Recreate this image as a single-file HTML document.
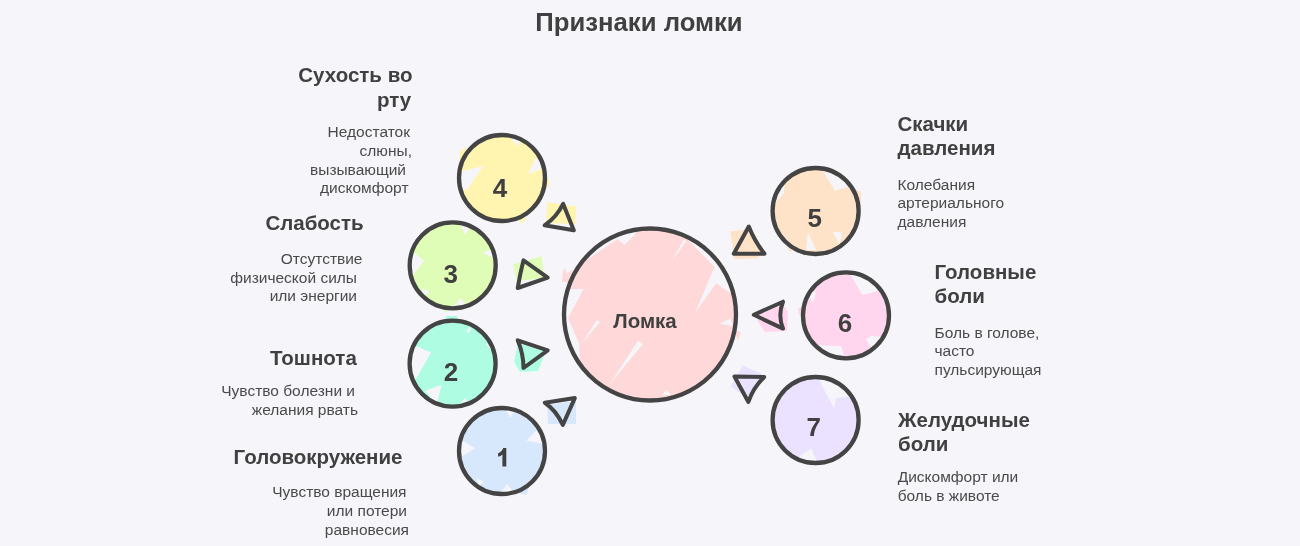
<!DOCTYPE html>
<html><head><meta charset="utf-8">
<style>
html,body{margin:0;padding:0;background:#f6f6fa;}
body{width:1300px;height:546px;overflow:hidden;}
svg{display:block;will-change:transform;}
text{font-family:"Liberation Sans",sans-serif;}
.t{font-weight:bold;font-size:25.7px;fill:#404040;}
.h{font-weight:bold;font-size:20.5px;fill:#404040;}
.d{font-size:15.5px;fill:#4a4a4a;}
.n{font-weight:bold;font-size:26px;fill:#404040;text-anchor:middle;}
.c{fill:none;stroke:#444;stroke-width:4.3;}
.tr{fill:none;stroke:#444;stroke-width:4;stroke-linejoin:round;stroke-linecap:round;}
</style></head>
<body>
<svg width="1300" height="546" viewBox="0 0 1300 546">
<rect width="1300" height="546" fill="#f6f6fa"/>
<text class="t" x="639" y="31" text-anchor="middle">Признаки ломки</text>

<!-- fills -->
<g id="fills">
<circle cx="650" cy="314.5" r="86" fill="#ffd9d9"/>
<path fill="#ffd9d9" d="M563,270 L572,266 L574,282 L562,282 Z M734,330 L741,332 L738,341 Z"/>
<g fill="#f6f6fa">
<path d="M566,262 L566,274 L617.6,238.9 L624.6,245 L635,234.6 L637,226 L600,230 Z"/>
<path d="M560,289 L583.7,289 L568,318 L579,343 L580,361 L560,345 Z"/>
<path d="M683.5,240 L686.5,241 L672,260.7 Z"/>
<path d="M684,236 L714.6,266.7 L695.4,312 L716.3,283.3 L730,293 L740,290 L724,256 L700,236 Z"/>
<path d="M597,320 L600,322 L581,344.6 Z"/>
<path d="M638,341 L643,344 L609,385 Z"/>
<path d="M719.8,323.7 L730.2,318.5 L733,326 Z"/>
<path d="M662,395 L666.7,389.8 L671,395 Z"/>
</g>
<circle cx="502" cy="178" r="43" fill="#fff4b0"/>
<path fill="#fff4b0" d="M460,151 L466,147 L466,168 L459,165 Z M518,219 L527,217 L522,224 Z M544,178 L550,180 L548,188 L543,186 Z"/>
<g fill="#f6f6fa">
<path d="M458,170 L463.7,170.9 L483.7,165.7 L467.2,189.2 L458,192 Z"/>
<path d="M509,136 L517.6,146.6 L521,139 Z"/>
<path d="M535.3,158 L528.2,174.3 L541,169 L545,160 Z"/>
</g>
<circle cx="452.7" cy="265.4" r="43" fill="#dffdb6"/>
<path fill="#dffdb6" d="M443,308 L450,307 L446,313 Z"/>
<g fill="#f6f6fa">
<path d="M408,250 L412,251 L424.1,260.6 L412.8,275.4 L408,276 Z"/>
<path d="M459,222 L465,234.5 L473,224 Z"/>
<path d="M498,247 L482.4,252.8 L499,261 Z"/>
<path d="M454,306 L460.7,298 L467,306 Z"/>
<path d="M422,288 L430,292 L424,296 Z"/>
</g>
<circle cx="452.6" cy="363.6" r="43" fill="#aefde2"/>
<path fill="#aefde2" d="M446,316 L457,316 L458,322 L445,322 Z"/>
<g fill="#f6f6fa">
<path d="M409,343 L431.1,352.5 L416.3,378.6 L409,380 Z"/>
<path d="M466,331 L472,325 L469,333 Z"/>
<path d="M486,344 L492,342 L493,352 Z"/>
<path d="M425,391 L441.5,384.7 L437,404 Z"/>
<path d="M460,404 L465,397.8 L469,404 Z"/>
</g>
<circle cx="502" cy="451" r="43" fill="#d8e8fc"/>
<path fill="#d8e8fc" d="M519,488 L529,486 L527,495 L520,494 Z"/>
<g fill="#f6f6fa">
<path d="M458,438 L475,448.2 L459,458 Z"/>
<path d="M503.7,407 L510.7,417.8 L515,408 Z"/>
<path d="M538,429 L526.3,440.4 L544,444 Z"/>
<path d="M501,492 L507.2,483.9 L513,492 Z"/>
<path d="M477,478 L484,482 L478,486 Z"/>
</g>
<circle cx="815.6" cy="211" r="43" fill="#fee3c8"/>
<path fill="#fee3c8" d="M855,189 L861,192 L861,215 L856,214 Z M787,247 L797,248 L790,252 Z"/>
<g fill="#f6f6fa">
<path d="M772,206 L783.7,193.5 L785.4,179.5 L775,185 Z"/>
<path d="M821,168 L835,190.8 L852,185.6 L842,170 Z"/>
<path d="M808,232.6 L816,250 L806,250 Z"/>
<path d="M833,231.7 L839.3,244.8 L842,232 Z"/>
</g>
<circle cx="846" cy="315.4" r="43" fill="#ffd6ee"/>
<path fill="#ffd6ee" d="M798,308 L805,306 L805,317 L799,315 Z"/>
<g fill="#f6f6fa">
<path d="M806,290 L816.3,292 L813,303 Z"/>
<path d="M849,272 L862.4,295 L880,290.6 L872,274 Z"/>
<path d="M818,345 L841.5,346.3 L845,360 L825,356 Z"/>
<path d="M865.9,339.3 L871.1,335.9 L886,337 L873,351 Z"/>
</g>
<circle cx="815.6" cy="420" r="43" fill="#eae2ff"/>
<g fill="#f6f6fa">
<path d="M776,398 L787,389 L778,392 Z"/>
<path d="M817,376 L834.1,408.5 L835.9,398.1 L851,396.4 L842,379 Z"/>
<path d="M800,456 L811.5,448.6 L817,462 L803,462 Z"/>
</g>
<!-- triangle patches -->
<path fill="#fff4b0" d="M547.3,202.2 L576.2,206.5 L575.4,224 L546,223 Z"/>
<path fill="#dffdb6" d="M513.2,264.2 L541.8,256 L544,278 L516.5,281.3 Z"/>
<path fill="#aefde2" d="M514,362 L518,343 L546,351 L538,371 L520,372 Z"/>
<path fill="#d8e8fc" d="M547,405 L576,401 L576,424 L548,424 Z"/>
<path fill="#fee3c8" d="M730.5,231.5 L750,229 L764,252 L757,258.5 L734,259 Z"/>
<path fill="#ffd6ee" d="M756,314.5 L782,302.5 L788,312 L787,331 L765,332 L758,322 Z"/>
<path fill="#eae2ff" d="M743,365.5 L762,374 L752,398 L740,393 L730.5,386.5 Z"/>
</g>
<!-- circles -->
<circle class="c" cx="650" cy="314.5" r="86"/>
<circle class="c" cx="502" cy="178" r="43"/>
<circle class="c" cx="452.7" cy="265.4" r="43"/>
<circle class="c" cx="452.6" cy="363.6" r="43"/>
<circle class="c" cx="502" cy="451" r="43"/>
<circle class="c" cx="815.6" cy="211" r="43"/>
<circle class="c" cx="846" cy="315.4" r="43"/>
<circle class="c" cx="815.6" cy="420" r="43"/>

<!-- triangles -->
<path class="tr" d="M563.1,203.8 Q556.7,217 544.6,225.3 L573.8,230.3 Z"/>
<path class="tr" d="M523.5,260.3 Q519.8,275 517.7,288 L547.7,277.6 Z"/>
<path class="tr" d="M517.7,340.3 Q523.5,354 523.5,368 L547.7,350.3 Z"/>
<path class="tr" d="M544.8,402.7 L574.8,398.1 L562.8,425 Q556,410 544.8,402.7 Z"/>
<path class="tr" d="M748.8,226.5 L733.8,253.8 L764.5,253.8 Q754.6,241.3 748.8,226.5 Z"/>
<path class="tr" d="M753.8,314.8 L783,301.7 Q777.6,315.15 783,328.6 Z"/>
<path class="tr" d="M734.5,376.6 L764.2,377 Q753,388 748.4,402 Z"/>

<!-- numbers -->
<text class="n" x="500.1" y="196.6">4</text>
<text class="n" x="450.8" y="282.6">3</text>
<text class="n" x="450.9" y="380.5">2</text>
<path fill="#404040" d="M502.4,466.6 L506.3,466.6 L506.3,448 L503.2,448 C502.6,450.2 501,452.3 498.1,453.3 L498.1,456.8 C499.8,456.3 501.3,455.5 502.4,454.4 Z"/>
<text class="n" x="814.8" y="226.8">5</text>
<text class="n" x="844.9" y="331.9">6</text>
<text class="n" x="813.8" y="436.1">7</text>
<text class="h" x="645" y="328" text-anchor="middle">Ломка</text>

<!-- left labels -->
<g text-anchor="end">
<text class="h" x="412.5" y="82.0">Сухость во</text>
<text class="h" x="411.2" y="107.1">рту</text>
<text class="d" x="410" y="137.3">Недостаток</text>
<text class="d" x="412" y="155.9">слюны,</text>
<text class="d" x="406" y="174.5">вызывающий</text>
<text class="d" x="408.5" y="193.1">дискомфорт</text>

<text class="h" x="363.6" y="230.1">Слабость</text>
<text class="d" x="362.5" y="264.2">Отсутствие</text>
<text class="d" x="357" y="282.8">физической силы</text>
<text class="d" x="357" y="301.4">или энергии</text>

<text class="h" x="356.8" y="365.1">Тошнота</text>
<text class="d" x="355" y="396.2">Чувство болезни и</text>
<text class="d" x="358" y="414.8">желания рвать</text>

<text class="h" x="402.5" y="464.2">Головокружение</text>
<text class="d" x="406.5" y="497.4">Чувство вращения</text>
<text class="d" x="407" y="516.0">или потери</text>
<text class="d" x="409" y="534.6">равновесия</text>
</g>

<!-- right labels -->
<text class="h" x="897.5" y="131.2">Скачки</text>
<text class="h" x="897.5" y="155.2">давления</text>
<text class="d" x="897.5" y="189.7">Колебания</text>
<text class="d" x="897.5" y="208.3">артериального</text>
<text class="d" x="897.5" y="226.9">давления</text>

<text class="h" x="934.5" y="278.7">Головные</text>
<text class="h" x="934.5" y="303.3">боли</text>
<text class="d" x="934.5" y="337.6">Боль в голове,</text>
<text class="d" x="934.5" y="356.2">часто</text>
<text class="d" x="934.5" y="374.8">пульсирующая</text>

<text class="h" x="898" y="426.5">Желудочные</text>
<text class="h" x="898" y="450.5">боли</text>
<text class="d" x="897.7" y="482.4">Дискомфорт или</text>
<text class="d" x="897.7" y="501.0">боль в животе</text>
</svg>
</body></html>
